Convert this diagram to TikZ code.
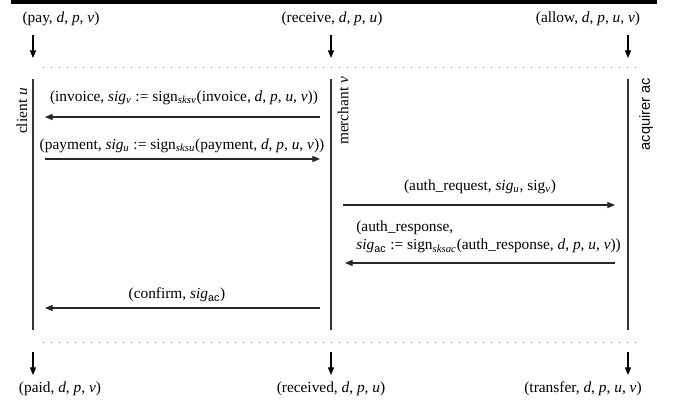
\documentclass[tikz,border=0pt]{standalone}
\usepackage{fontspec}
\setmainfont{Liberation Serif}
\setsansfont{Liberation Sans}
\usetikzlibrary{arrows.meta}
\begin{document}
\begin{tikzpicture}[x=0.65pt,y=-0.65pt,
  font=\fontsize{10}{12}\selectfont,
  lifeline/.style={draw=black!80, line width=0.8pt},
  msg/.style={draw=black!85, line width=0.7pt, -{Triangle[length=5pt,width=4pt]}},
  io/.style={draw=black, line width=0.7pt, -{Triangle[length=5pt,width=4pt]}},
  dotline/.style={draw=gray, line width=0.6pt, dash pattern=on 0.5pt off 4.7pt},
  lbl/.style={inner sep=0pt},
  role/.style={inner sep=0pt, rotate=90}]
\useasboundingbox (0,0) rectangle (674,407);
\fill[black] (11,0) rectangle (657,4);

% top events
\node[lbl] (pay) at (61,19) {(pay, \textit{d}, \textit{p}, \textit{v})};
\node[lbl] (receive) at (332,19) {(receive, \textit{d}, \textit{p}, \textit{u})};
\node[lbl] (allow) at (588,19) {(allow, \textit{d}, \textit{p}, \textit{u}, \textit{v})};
\coordinate (pay1) at (33,35);  \coordinate (pay2) at (33,58);
\coordinate (rec1) at (331,35); \coordinate (rec2) at (331,58);
\coordinate (all1) at (628,35); \coordinate (all2) at (628,58);
\draw[io] (pay1) -- (pay2);
\draw[io] (rec1) -- (rec2);
\draw[io] (all1) -- (all2);

% dotted separators
\coordinate (d1a) at (43,67);  \coordinate (d1b) at (636,67);
\coordinate (d2a) at (43,342); \coordinate (d2b) at (636,342);
\draw[dotline] (d1a) -- (d1b);
\draw[dotline] (d2a) -- (d2b);

% lifelines
\coordinate (cT) at (33,79);  \coordinate (cB) at (33,330);
\coordinate (mT) at (331,79); \coordinate (mB) at (331,330);
\coordinate (aT) at (628,79); \coordinate (aB) at (628,330);
\draw[lifeline] (cT) -- (cB);
\draw[lifeline] (mT) -- (mB);
\draw[lifeline] (aT) -- (aB);
\node[role] (client) at (22,111) {client \textit{u}};
\node[role] (merchant) at (343,111) {merchant \textit{v}};
\node[role, font=\sffamily\fontsize{9.5}{11}\selectfont] (acquirer) at (646,114) {acquirer ac};

% messages
\coordinate (m1a) at (320,117); \coordinate (m1b) at (45,117);
\draw[msg] (m1a) -- (m1b);
\node[lbl] (invoice) at (184,98) {(invoice, \textit{sig}\textsubscript{\textit{v}} := sign\textsubscript{\textit{sksv}}(invoice, \textit{d}, \textit{p}, \textit{u}, \textit{v}))};

\coordinate (m2a) at (45,159); \coordinate (m2b) at (320,159);
\draw[msg] (m2a) -- (m2b);
\node[lbl] (payment) at (182,146) {(payment, \textit{sig}\textsubscript{\textit{u}} := sign\textsubscript{\textit{sksu}}(payment, \textit{d}, \textit{p}, \textit{u}, \textit{v}))};

\coordinate (m3a) at (343,205); \coordinate (m3b) at (615,205);
\draw[msg] (m3a) -- (m3b);
\node[lbl] (authreq) at (480,187) {(auth\_request, \textit{sig}\textsubscript{\textit{u}}, sig\textsubscript{\textit{v}})};

\coordinate (m4a) at (615,263); \coordinate (m4b) at (345,263);
\draw[msg] (m4a) -- (m4b);
\node[lbl, align=left, anchor=west] (authresp) at (356,237) {(auth\_response,\\ \textit{sig}\textsubscript{\textsf{ac}} := sign\textsubscript{\textit{sksac}}(auth\_response, \textit{d}, \textit{p}, \textit{u}, \textit{v}))};

\coordinate (m5a) at (320,308); \coordinate (m5b) at (45,308);
\draw[msg] (m5a) -- (m5b);
\node[lbl] (confirm) at (177,295) {(confirm, \textit{sig}\textsubscript{\textsf{ac}})};

% bottom events
\coordinate (paid1) at (33,352); \coordinate (paid2) at (33,375);
\coordinate (recd1) at (331,352); \coordinate (recd2) at (331,375);
\coordinate (tra1) at (628,352); \coordinate (tra2) at (628,375);
\draw[io] (paid1) -- (paid2);
\draw[io] (recd1) -- (recd2);
\draw[io] (tra1) -- (tra2);
\node[lbl] (paid) at (60,389) {(paid, \textit{d}, \textit{p}, \textit{v})};
\node[lbl] (received) at (331,389) {(received, \textit{d}, \textit{p}, \textit{u})};
\node[lbl] (transfer) at (583,389) {(transfer, \textit{d}, \textit{p}, \textit{u}, \textit{v})};
\end{tikzpicture}
\end{document}
